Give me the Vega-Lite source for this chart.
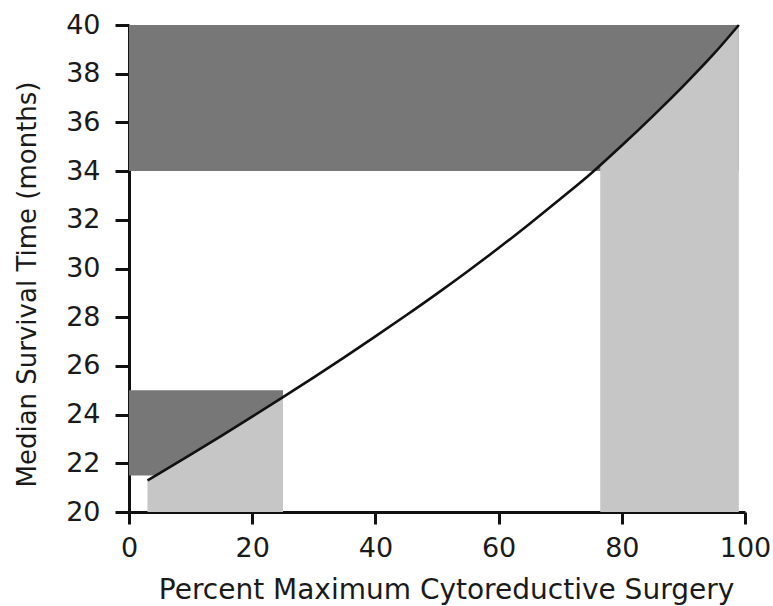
{
  "$schema": "https://vega.github.io/schema/vega-lite/v6.json",
  "width": 616,
  "height": 487,
  "autosize": "none",
  "padding": {"left": 129, "top": 25, "right": 28, "bottom": 94},
  "background": "white",
  "config": {
    "view": {"stroke": null},
    "axis": {
      "grid": false,
      "domainColor": "#111",
      "domainWidth": 3,
      "tickColor": "#111",
      "tickWidth": 3,
      "tickSize": 14,
      "labelFont": "DejaVu Sans",
      "labelFontSize": 27,
      "labelColor": "#1a1a1a",
      "labelOverlap": false,
      "labelFlush": false,
      "titleFont": "DejaVu Sans",
      "titleFontWeight": "normal",
      "titleColor": "#1a1a1a",
      "zindex": 1
    }
  },
  "datasets": {
    "curve": [
      {"x": 3, "y": 21.3},
      {"x": 5, "y": 21.6},
      {"x": 10, "y": 22.36},
      {"x": 15, "y": 23.13},
      {"x": 20, "y": 23.915},
      {"x": 25, "y": 24.715},
      {"x": 30, "y": 25.53},
      {"x": 35, "y": 26.36},
      {"x": 40, "y": 27.21},
      {"x": 45, "y": 28.08},
      {"x": 50, "y": 28.97},
      {"x": 55, "y": 29.89},
      {"x": 60, "y": 30.84},
      {"x": 65, "y": 31.83},
      {"x": 70, "y": 32.85},
      {"x": 75, "y": 33.9},
      {"x": 80, "y": 35.05},
      {"x": 85, "y": 36.25},
      {"x": 90, "y": 37.5},
      {"x": 95, "y": 38.83},
      {"x": 99, "y": 40.0}
    ],
    "gray": [
      {"g": "low", "x": 3, "y": 21.3},
      {"g": "low", "x": 5, "y": 21.6},
      {"g": "low", "x": 10, "y": 22.36},
      {"g": "low", "x": 15, "y": 23.13},
      {"g": "low", "x": 20, "y": 23.915},
      {"g": "low", "x": 25, "y": 24.715},
      {"g": "high", "x": 76.5, "y": 34.23},
      {"g": "high", "x": 80, "y": 35.05},
      {"g": "high", "x": 85, "y": 36.25},
      {"g": "high", "x": 90, "y": 37.5},
      {"g": "high", "x": 95, "y": 38.83},
      {"g": "high", "x": 99, "y": 40.0}
    ],
    "hatch": [
      {"x": 0, "x2": 99, "y": 34, "y2": 40},
      {"x": 0, "x2": 25, "y": 21.5, "y2": 25}
    ]
  },
  "layer": [
    {
      "data": {"name": "hatch"},
      "mark": {"type": "rect", "color": "#777777"},
      "encoding": {
        "x": {"field": "x", "type": "quantitative", "scale": {"domain": [0, 100], "nice": false},
          "axis": {"values": [0, 20, 40, 60, 80, 100], "title": "Percent Maximum Cytoreductive Surgery",
            "labelBaseline": "alphabetic", "labelPadding": 32, "tickSize": 12,
            "titleFontSize": 28, "titleX": 317, "titleY": 86, "titleBaseline": "alphabetic"}},
        "x2": {"field": "x2"},
        "y": {"field": "y", "type": "quantitative", "scale": {"domain": [20, 40], "nice": false},
          "axis": {"values": [20, 22, 24, 26, 28, 30, 32, 34, 36, 38, 40], "title": "Median Survival Time (months)",
            "labelPadding": 15, "labelBaseline": "middle",
            "titleFontSize": 26, "titleAngle": -90, "titleX": -102, "titleY": 259, "titleAlign": "center", "titleBaseline": "middle"}},
        "y2": {"field": "y2"}
      }
    },
    {
      "data": {"name": "gray"},
      "mark": {"type": "area", "color": "#c6c6c6", "interpolate": "monotone"},
      "encoding": {
        "x": {"field": "x", "type": "quantitative"},
        "y": {"field": "y", "type": "quantitative"},
        "y2": {"datum": 20},
        "detail": {"field": "g"}
      }
    },
    {
      "data": {"name": "curve"},
      "mark": {"type": "line", "color": "#111", "strokeWidth": 2.6, "interpolate": "monotone"},
      "encoding": {
        "x": {"field": "x", "type": "quantitative"},
        "y": {"field": "y", "type": "quantitative"}
      }
    }
  ]
}
